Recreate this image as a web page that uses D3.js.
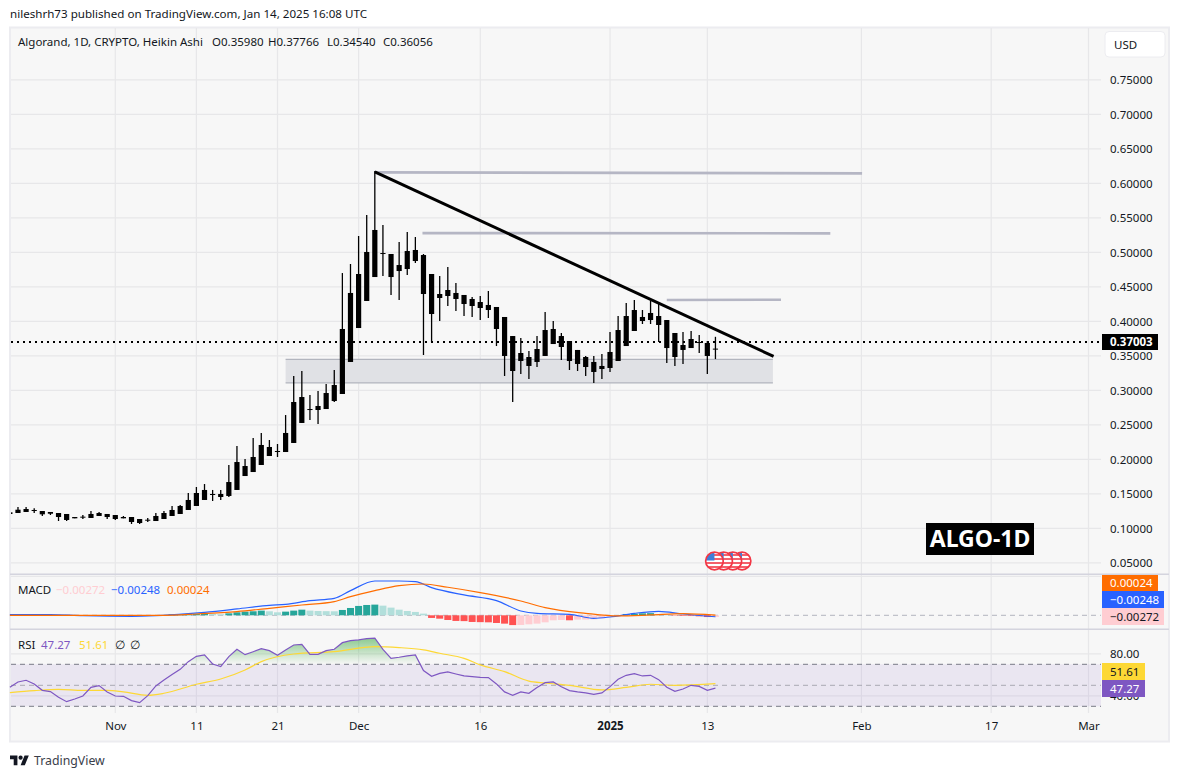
<!DOCTYPE html>
<html>
<head>
<meta charset="utf-8">
<script src="https://cdn.jsdelivr.net/npm/d3@7"></script>
<style>
  body { margin: 0; background: #ffffff; }
  text { font-family: "Noto Sans", sans-serif; fill: #131722; }
</style>
</head>
<body>
<div id="chart"></div>
<script>
// Daily Heikin Ashi candles, first one is 19 Oct 2024, last one 14 Jan 2025
var firstDay = "2024-10-19";

var bodyHi = [
  .1233,.1271,.1281,.1267,.1252,.1238,.1223,.1209,.1165,.1170,
  .1209,.1223,.1209,.1194,.1165,.1165,.1136,.1126,.1180,.1223,
  .1267,.1325,.1412,.1513,.1557,.1499,.1499,.1672,.1962,.1904,
  .2035,.2209,.2180,.2122,.2383,.2832,.2904,.2730,.2774,.2962,
  .3078,.3890,.4412,.4687,.5006,.5325,.4991,.4977,.4817,.5020,
  .5035,.4962,.4687,.4397,.4455,.4412,.4383,.4325,.4281,.4238,
  .4209,.4064,.3788,.3542,.3484,.3600,.3875,.3890,.3788,.3716,
  .3586,.3484,.3412,.3354,.3557,.3875,.4078,.4165,.4064,.4122,
  .4078,.4020,.3832,.3658,.3745,.3701,.3687,.36056
];
var bodyLo = [
  .1209,.1223,.1238,.1252,.1204,.1213,.1165,.1122,.1146,.1161,
  .1151,.1180,.1165,.1136,.1146,.1093,.1078,.1112,.1107,.1136,
  .1180,.1209,.1267,.1325,.1412,.1484,.1455,.1470,.1557,.1759,
  .1817,.1919,.2049,.2107,.2107,.2238,.2528,.2716,.2716,.2730,
  .2846,.2948,.3412,.3904,.4296,.4643,.4977,.4643,.4730,.4759,
  .4875,.4397,.4107,.4339,.4368,.4325,.4252,.4223,.4194,.4165,
  .3890,.3499,.3281,.3426,.3354,.3412,.3499,.3672,.3629,.3426,
  .3383,.3339,.3267,.3310,.3325,.3426,.3643,.3861,.4006,.4020,
  .3948,.3614,.3484,.3586,.3614,.3687,.3499,.3598
];
var high = [
  .1233,.1310,.1310,.1291,.1252,.1238,.1223,.1209,.1165,.1194,
  .1252,.1238,.1209,.1194,.1180,.1165,.1136,.1151,.1223,.1252,
  .1325,.1339,.1513,.1600,.1643,.1557,.1557,.1919,.2194,.2006,
  .2310,.2383,.2281,.2223,.2643,.3209,.3281,.2933,.2991,.3093,
  .3296,.4701,.4832,.5238,.5542,.6180,.5397,.4977,.5151,.5296,
  .5223,.4977,.4687,.4658,.4788,.4557,.4383,.4354,.4368,.4441,
  .4209,.4064,.3788,.3759,.3571,.3788,.4136,.4006,.3832,.3716,
  .3586,.3499,.3499,.3528,.3846,.4078,.4267,.4310,.4165,.4296,
  .4252,.4020,.3832,.3846,.3861,.3803,.3716,.37766
];
var low = [
  .1209,.1223,.1238,.1223,.1180,.1194,.1107,.1107,.1146,.1136,
  .1151,.1180,.1136,.1122,.1146,.1064,.1064,.1093,.1107,.1136,
  .1180,.1209,.1267,.1325,.1412,.1397,.1412,.1455,.1557,.1759,
  .1817,.1919,.2049,.2035,.2107,.2238,.2528,.2571,.2513,.2730,
  .2832,.2948,.3412,.3904,.4296,.4643,.4658,.4383,.4310,.4672,
  .4846,.3513,.3701,.4006,.4223,.4151,.4078,.4064,.4020,.4049,
  .3643,.3209,.2832,.3238,.3165,.3339,.3499,.3672,.3441,.3296,
  .3281,.3209,.3107,.3165,.3267,.3426,.3643,.3861,.3962,.3962,
  .3701,.3397,.3354,.3383,.3614,.3542,.3238,.3454
];

var macdHist = [
  .0002,.0002,.0001,-.0001,-.0002,-.0003,-.0003,-.0004,-.0004,-.0003,
  -.0003,-.0002,-.0002,-.0002,-.0002,-.0002,-.0002,-.0001,.0001,.0002,
  .0017,.0017,.0018,.0022,.0028,.0022,.0017,.0033,.0050,.0061,
  .0067,.0078,.0067,.0050,.0061,.0078,.0094,.0078,.0072,.0069,
  .0067,.0089,.0122,.0156,.0172,.0178,.0161,.0128,.0094,.0072,
  .0056,.0028,-.0044,-.0056,-.0078,-.0094,-.0097,-.0111,-.0114,-.0117,
  -.0128,-.0139,-.0163,-.0161,-.0150,-.0139,-.0117,-.0083,-.0078,-.0083,
  -.0072,-.0071,-.0067,-.0050,-.0028,-.0011,.0022,.0028,.0033,.0036,
  .0022,.0011,-.0006,-.0011,-.0012,-.0017,-.0029,-.00272
];

// MACD lines are read every few days, offsets are days from 1 Nov 2024
var macdDays = [-13,-8,-4,2,5,9,11,15,19,21,24,27,29,32,35,37,39,43,47,50,52,56,59,61,64,67,70,74];
var macdLine = [.0011,.0011,-.0006,-.0017,-.0006,.0028,.0050,.0106,.0167,.0183,.0244,.0283,.0411,.0572,.0572,.0561,.0461,.0339,.0244,.0072,.0033,.0017,-.0050,-.0028,.0033,.0067,.0022,-.00248];
var signalDays = [-13,6,10,15,19,23,27,29,32,35,38,41,45,50,53,58,62,66,70,74];
var signalLine = [0,0,.0022,.0061,.0117,.0172,.0228,.0311,.0411,.0494,.0522,.0467,.0378,.0239,.0128,.0033,-.0011,.0006,.0028,.00024];

var rsi = [
  48.1,53.2,54.8,51.3,45.2,44,38.6,34.4,37,39.8,
  48.1,49.7,43.7,39.8,39.5,35.4,33.5,40.2,49.4,55,
  60.2,65.2,72.5,77.6,78.9,70.3,67.8,77.3,84.3,79.2,
  82,84.9,83,78.6,83.7,88.4,89,79.5,79.5,83,
  84.3,90.6,92.5,93.2,94.4,95,84.3,75.7,76.7,78,
  78.9,64,58.6,61.4,62.7,60.8,58.9,58.3,57.6,57.3,
  51.3,43.7,40.5,43.7,42.4,47.8,52.5,53.2,48.7,44.9,
  43.7,42.7,41.4,42.7,48.7,55.7,59.5,61.1,58.9,59.5,
  55.4,48.1,44.3,46.5,50,49,45.2,47.27
];
var rsiMaDays = [-13,-10,-7,-4,-1,1,4,6,10,13,16,18,22,27,32,35,38,40,43,45,48,51,53,56,60,63,66,69,74];
var rsiMa = [43,44.9,46.2,45.2,45.2,43.7,40.5,42.4,51,56,64.6,72.5,79.8,82,86.8,85.9,83.7,80.5,75.7,69.4,63,54,52.2,50,45.6,48,51,50,51.61];

// Axis ticks
var priceTicks = [.05,.10,.15,.20,.25,.30,.35,.40,.45,.50,.55,.60,.65,.70,.75];
var rsiGrid = [80,40];
var rsiAxisTicks = [80,40];
var timeTicks = ["2024-11-01","2024-11-11","2024-11-21","2024-12-01","2024-12-16","2025-01-01","2025-01-13","2025-02-01","2025-02-17","2025-03-01"];
var timeLabels = ["Nov","11","21","Dec","16","2025","13","Feb","17","Mar"];

// Drawings on the price pane: [start day, end day, start price, end price]
var trendLine = [32, 81.2, .6167, .3493];
var levelLines = [
  [32, 92.1, .6160, .6146],
  [37.9, 88.2, .5280, .5276],
  [68, 82.1, .4310, .4314]
];
var zoneDays = [21, 81.1];
var zonePrices = [.3449, .3109];
var lastPrice = 0.37003;

var parseDay = d3.utcParse("%Y-%m-%d");
var nov1 = parseDay("2024-11-01");
var candleDates = d3.utcDay.range(parseDay(firstDay), d3.utcDay.offset(parseDay(firstDay), bodyHi.length));

var svgWidth = 1179;
var svgHeight = 777;
var paneLeft = 11;
var paneRight = 1101;
var labelSize = 11.5;

var svg = d3.select("#chart")
  .append("svg")
  .attr("width", svgWidth)
  .attr("height", svgHeight)
  .style("display", "block");

var x = d3.scaleUtc()
  .domain([nov1, parseDay("2025-03-01")])
  .range([115.3, 1088.5]);
var yPrice = d3.scaleLinear().domain([.05, .75]).range([562.9, 79.9]);
var yMacd = d3.scaleLinear().domain([0, .065]).range([615.3, 576.3]);
var yRsi = d3.scaleLinear().domain([30, 70]).range([706.3, 664.3]);

function dayX(offset) {
  return x(d3.utcHour.offset(nov1, offset * 24));
}

// Frame
svg.append("rect")
  .attr("x", 10).attr("y", 27.5)
  .attr("width", 1159).attr("height", 714)
  .attr("fill", "#f7f7f7")
  .attr("stroke", "#ececf0")
  .attr("stroke-width", 2);

var defs = svg.append("defs");
defs.append("clipPath").attr("id", "plotClip")
  .append("rect").attr("x", paneLeft).attr("y", 28).attr("width", paneRight - paneLeft).attr("height", 546);
var rsiFill = defs.append("linearGradient").attr("id", "rsiFill")
  .attr("gradientUnits", "userSpaceOnUse")
  .attr("x1", 0).attr("x2", 0).attr("y1", yRsi(100)).attr("y2", yRsi(70));
rsiFill.append("stop").attr("offset", 0).attr("stop-color", "#4caf50").attr("stop-opacity", .75);
rsiFill.append("stop").attr("offset", 1).attr("stop-color", "#4caf50").attr("stop-opacity", 0);
defs.append("clipPath").attr("id", "rsiOverClip")
  .append("rect").attr("x", paneLeft).attr("y", 630).attr("width", paneRight - paneLeft).attr("height", yRsi(70) - 630);

// Grid
var gridColor = "#e7e7e9";
svg.append("g").selectAll("line")
  .data(timeTicks)
  .enter()
  .append("line")
  .attr("x1", d => x(parseDay(d)))
  .attr("x2", d => x(parseDay(d)))
  .attr("y1", 28)
  .attr("y2", 713)
  .attr("stroke", gridColor)
  .attr("stroke-width", 1.2);

svg.append("g").selectAll("line")
  .data(priceTicks)
  .enter()
  .append("line")
  .attr("x1", paneLeft)
  .attr("x2", paneRight)
  .attr("y1", d => yPrice(d))
  .attr("y2", d => yPrice(d))
  .attr("stroke", gridColor)
  .attr("stroke-width", 1.2);

svg.append("g").selectAll("line")
  .data(rsiGrid)
  .enter()
  .append("line")
  .attr("x1", paneLeft)
  .attr("x2", paneRight)
  .attr("y1", d => yRsi(d))
  .attr("y2", d => yRsi(d))
  .attr("stroke", gridColor)
  .attr("stroke-width", 1.2);

svg.append("line")
  .attr("x1", paneLeft).attr("x2", paneRight)
  .attr("y1", yMacd(.065)).attr("y2", yMacd(.065))
  .attr("stroke", gridColor).attr("stroke-width", 1.2);

// Support zone
var zone = svg.append("g");
zone.append("rect")
  .attr("x", dayX(zoneDays[0]))
  .attr("y", yPrice(zonePrices[0]))
  .attr("width", dayX(zoneDays[1]) - dayX(zoneDays[0]))
  .attr("height", yPrice(zonePrices[1]) - yPrice(zonePrices[0]))
  .attr("fill", "#e0e1e5");
zone.selectAll("line")
  .data(zonePrices)
  .enter()
  .append("line")
  .attr("x1", dayX(zoneDays[0]))
  .attr("x2", dayX(zoneDays[1]))
  .attr("y1", d => yPrice(d))
  .attr("y2", d => yPrice(d))
  .attr("stroke", "#b2b5be")
  .attr("stroke-width", 1.4);

// Level lines
svg.append("g").selectAll("line")
  .data(levelLines)
  .enter()
  .append("line")
  .attr("x1", d => dayX(d[0]))
  .attr("x2", d => dayX(d[1]))
  .attr("y1", d => yPrice(d[2]))
  .attr("y2", d => yPrice(d[3]))
  .attr("stroke", "#b5b6c4")
  .attr("stroke-width", 2.6);

// Last price line
svg.append("line")
  .attr("x1", paneLeft).attr("x2", paneRight)
  .attr("y1", yPrice(lastPrice)).attr("y2", yPrice(lastPrice))
  .attr("stroke", "#000000")
  .attr("stroke-width", 2)
  .attr("stroke-dasharray", "2 4");

// Candles
var candleGroup = svg.append("g").attr("clip-path", "url(#plotClip)");
candleGroup.selectAll(".wick")
  .data(candleDates)
  .enter()
  .append("line")
  .attr("class", "wick")
  .attr("x1", d => x(d))
  .attr("x2", d => x(d))
  .attr("y1", (d, i) => yPrice(high[i]))
  .attr("y2", (d, i) => yPrice(low[i]))
  .attr("stroke", "#000000")
  .attr("stroke-width", 1.3);
candleGroup.selectAll(".body")
  .data(candleDates)
  .enter()
  .append("rect")
  .attr("class", "body")
  .attr("x", d => x(d) - 2.6)
  .attr("width", 5.2)
  .attr("y", (d, i) => yPrice(bodyHi[i]))
  .attr("height", (d, i) => Math.max(1, yPrice(bodyLo[i]) - yPrice(bodyHi[i])))
  .attr("fill", "#000000");

// Trend line
svg.append("line")
  .attr("x1", dayX(trendLine[0]))
  .attr("x2", dayX(trendLine[1]))
  .attr("y1", yPrice(trendLine[2]))
  .attr("y2", yPrice(trendLine[3]))
  .attr("stroke", "#000000")
  .attr("stroke-width", 3);

// Event flags
var flagOffsets = [3, 2, 1, 0];
var flags = svg.append("g");
flagOffsets.forEach(function(n) {
  var cx = x(candleDates[candleDates.length - 1]) - 1 + n * 9.2;
  var cy = 561;
  var id = "flag" + n;
  defs.append("clipPath").attr("id", id)
    .append("circle").attr("cx", cx).attr("cy", cy).attr("r", 8.6);
  var g = flags.append("g");
  g.append("circle").attr("cx", cx).attr("cy", cy).attr("r", 8.6).attr("fill", "#ffffff");
  var stripes = g.append("g").attr("clip-path", "url(#" + id + ")");
  [-6, -2, 2, 6].forEach(function(dy) {
    stripes.append("rect")
      .attr("x", cx - 10).attr("y", cy + dy - 1)
      .attr("width", 20).attr("height", 2)
      .attr("fill", "#f4606b");
  });
  stripes.append("rect")
    .attr("x", cx - 9).attr("y", cy - 9)
    .attr("width", 9).attr("height", 8.5)
    .attr("fill", "#3f7fd9");
  g.append("circle")
    .attr("cx", cx).attr("cy", cy).attr("r", 8.8)
    .attr("fill", "none")
    .attr("stroke", "#f23645")
    .attr("stroke-width", 1.7);
});

// Title label on the chart
svg.append("rect")
  .attr("x", 926).attr("y", 523)
  .attr("width", 108).attr("height", 32)
  .attr("fill", "#000000");
svg.append("text")
  .attr("x", 980).attr("y", 547)
  .attr("text-anchor", "middle")
  .attr("font-size", 23)
  .attr("font-weight", 700)
  .style("fill", "#ffffff")
  .text("ALGO-1D");

// Pane separators
svg.append("g").selectAll("line")
  .data([574.3, 629.3])
  .enter()
  .append("line")
  .attr("x1", 10).attr("x2", 1169)
  .attr("y1", d => d).attr("y2", d => d)
  .attr("stroke", "#d4d4de")
  .attr("stroke-width", 1.4);

// MACD pane
svg.append("line")
  .attr("x1", paneLeft).attr("x2", paneRight)
  .attr("y1", yMacd(0)).attr("y2", yMacd(0))
  .attr("stroke", "#b2b5be")
  .attr("stroke-dasharray", "5 4");

function histColor(d, i) {
  var prev = i > 0 ? macdHist[i - 1] : d;
  if (d >= 0) return d >= prev ? "#26a69a" : "#b2dfdb";
  return d < prev ? "#ff5252" : "#ffcdd2";
}

svg.append("g")
  .selectAll("rect")
  .data(macdHist)
  .enter()
  .append("rect")
  .attr("x", (d, i) => Math.max(paneLeft, x(candleDates[i]) - 3.5))
  .attr("width", 7)
  .attr("y", d => Math.min(yMacd(d), yMacd(0)))
  .attr("height", d => Math.abs(yMacd(d) - yMacd(0)))
  .attr("fill", histColor);

var macdPath = d3.line()
  .x(d => dayX(d[0]))
  .y(d => yMacd(d[1]))
  .curve(d3.curveMonotoneX);

svg.append("path")
  .attr("d", macdPath(macdDays.map((d, i) => [d, macdLine[i]])))
  .attr("fill", "none")
  .attr("stroke", "#2962ff")
  .attr("stroke-width", 1.2);
svg.append("path")
  .attr("d", macdPath(signalDays.map((d, i) => [d, signalLine[i]])))
  .attr("fill", "none")
  .attr("stroke", "#ff6d00")
  .attr("stroke-width", 1.2);

// RSI pane
svg.append("rect")
  .attr("x", paneLeft)
  .attr("y", yRsi(70))
  .attr("width", paneRight - paneLeft)
  .attr("height", yRsi(30) - yRsi(70))
  .attr("fill", "#7e57c2")
  .attr("fill-opacity", .1);

svg.append("g").selectAll("line")
  .data([70, 50, 30])
  .enter()
  .append("line")
  .attr("x1", paneLeft).attr("x2", paneRight)
  .attr("y1", d => yRsi(d)).attr("y2", d => yRsi(d))
  .attr("stroke", d => d === 50 ? "#a9a9b3" : "#787b86")
  .attr("stroke-width", 1)
  .attr("stroke-dasharray", "5 4");

var rsiArea = d3.area()
  .x((d, i) => x(candleDates[i]))
  .y0(yRsi(70))
  .y1(d => yRsi(d));
svg.append("path")
  .attr("d", rsiArea(rsi))
  .attr("clip-path", "url(#rsiOverClip)")
  .attr("fill", "url(#rsiFill)");

svg.append("path")
  .attr("d", d3.line().x(d => dayX(d[0])).y(d => yRsi(d[1])).curve(d3.curveMonotoneX)(rsiMaDays.map((d, i) => [d, rsiMa[i]])))
  .attr("fill", "none")
  .attr("stroke", "#fdd835")
  .attr("stroke-width", 1.2);
svg.append("path")
  .attr("d", d3.line().x((d, i) => x(candleDates[i])).y(d => yRsi(d))(rsi))
  .attr("fill", "none")
  .attr("stroke", "#7e57c2")
  .attr("stroke-width", 1.2);

// Axes
var priceAxis = d3.axisRight(yPrice)
  .tickValues(priceTicks)
  .tickFormat(d3.format(".5f"))
  .tickSize(0)
  .tickPadding(9);
var priceAxisG = svg.append("g")
  .attr("transform", `translate(${paneRight}, 0)`)
  .call(priceAxis);

var rsiAxis = d3.axisRight(yRsi)
  .tickValues(rsiAxisTicks)
  .tickFormat(d3.format(".2f"))
  .tickSize(0)
  .tickPadding(9);
var rsiAxisG = svg.append("g")
  .attr("transform", `translate(${paneRight}, 0)`)
  .call(rsiAxis);

var timeAxis = d3.axisBottom(x)
  .tickValues(timeTicks.map(parseDay))
  .tickFormat((d, i) => timeLabels[i])
  .tickSize(0)
  .tickPadding(9);
var timeAxisG = svg.append("g")
  .attr("transform", "translate(0, 713)")
  .call(timeAxis);
timeAxisG.selectAll("text").filter((d, i) => timeLabels[i] === "2025").attr("font-weight", 700);

[priceAxisG, rsiAxisG, timeAxisG].forEach(function(g) {
  g.select(".domain").remove();
  g.selectAll("text").attr("font-size", labelSize).attr("font-family", '"Noto Sans", sans-serif');
});

// Value tags on the right scale
var tags = [
  { y: 334, h: 16, w: 56, text: "0.37003", bg: "#000000", fg: "#ffffff", bold: true },
  { y: 575, h: 16, w: 56, text: "0.00024", bg: "#ff6d00", fg: "#ffffff" },
  { y: 591, h: 17, w: 62, text: "\u22120.00248", bg: "#2962ff", fg: "#ffffff" },
  { y: 608, h: 17, w: 62, text: "\u22120.00272", bg: "#ffcdd2", fg: "#131722" },
  { y: 663, h: 17, w: 43, text: "51.61", bg: "#fdd835", fg: "#131722" },
  { y: 680, h: 17, w: 43, text: "47.27", bg: "#7e57c2", fg: "#ffffff" }
];
var tagG = svg.append("g").selectAll("g")
  .data(tags)
  .enter()
  .append("g");
tagG.append("rect")
  .attr("x", 1102)
  .attr("y", d => d.y)
  .attr("width", d => d.w)
  .attr("height", d => d.h)
  .attr("fill", d => d.bg);
tagG.append("text")
  .attr("x", 1110)
  .attr("y", d => d.y + d.h / 2 + 4.2)
  .attr("font-size", labelSize)
  .attr("font-weight", d => d.bold ? 700 : 400)
  .style("fill", d => d.fg)
  .text(d => d.text);

// USD button
svg.append("rect")
  .attr("x", 1105).attr("y", 31.5)
  .attr("width", 60).attr("height", 25.5)
  .attr("rx", 4)
  .attr("fill", "#ffffff")
  .attr("stroke", "#ececf0");
svg.append("text")
  .attr("x", 1114).attr("y", 49)
  .attr("font-size", labelSize)
  .text("USD");

// Legends
function legend(y, parts) {
  parts.forEach(function(p) {
    svg.append("text")
      .attr("x", p[0]).attr("y", y)
      .attr("font-size", labelSize)
      .style("fill", p[2])
      .text(p[1]);
  });
}

legend(46, [
  [18, "Algorand, 1D, CRYPTO, Heikin Ashi", "#131722"],
  [212, "O0.35980", "#131722"],
  [268, "H0.37766", "#131722"],
  [327, "L0.34540", "#131722"],
  [383, "C0.36056", "#131722"]
]);
legend(594, [
  [18, "MACD", "#131722"],
  [56, "\u22120.00272", "#ffcdd2"],
  [111, "\u22120.00248", "#2962ff"],
  [167, "0.00024", "#ff6d00"]
]);
legend(649, [
  [18, "RSI", "#131722"],
  [41, "47.27", "#7e57c2"],
  [79, "51.61", "#fdd835"],
  [115, "\u2205", "#131722"],
  [130, "\u2205", "#131722"]
]);

svg.append("text")
  .attr("x", 10).attr("y", 18)
  .attr("font-size", 11.6)
  .text("nileshrh73 published on TradingView.com, Jan 14, 2025 16:08 UTC");

// Footer logo
var logo = svg.append("g").attr("transform", "translate(10, 753.5) scale(0.53)");
logo.append("path")
  .attr("d", "M14 22H7V11H0V4h14v18zM28 22h-8l7.5-18h8L28 22z")
  .attr("fill", "#131722");
logo.append("circle")
  .attr("cx", 20).attr("cy", 8).attr("r", 4)
  .attr("fill", "#131722");
svg.append("text")
  .attr("x", 34).attr("y", 764.5)
  .attr("font-size", 12.3)
  .style("fill", "#3a3e4a")
  .text("TradingView");
</script>
</body>
</html>
